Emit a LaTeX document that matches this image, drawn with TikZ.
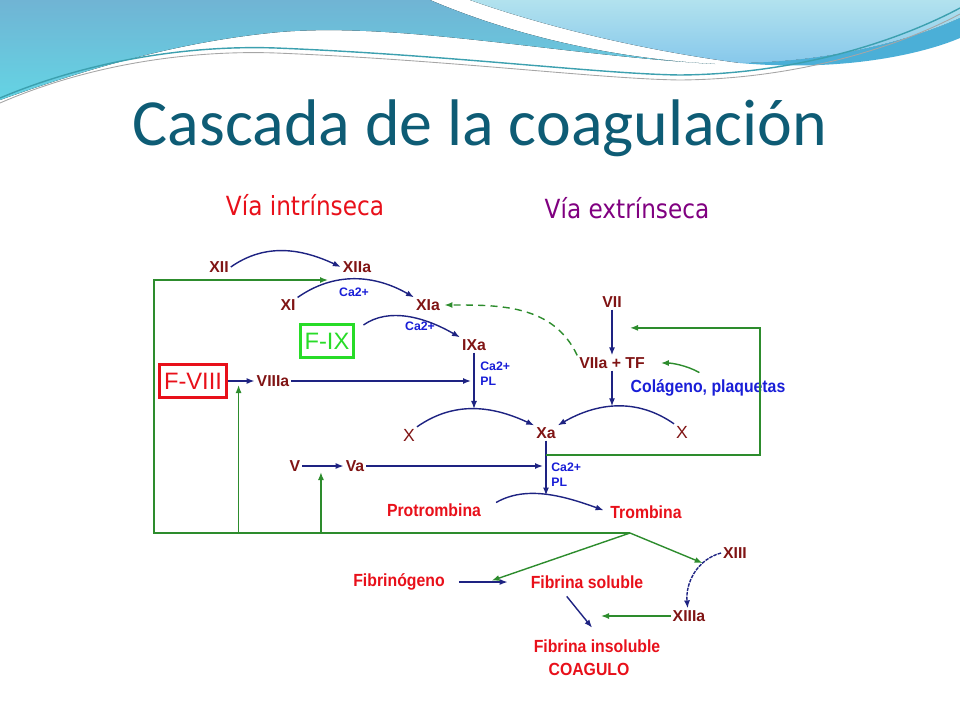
\documentclass[tikz,border=0pt]{standalone}
\usepackage{fontspec}
\setmainfont{Liberation Sans}
\newfontfamily\titlefont{Carlito}
\newfontfamily\narrowfont[FakeStretch=0.9]{Liberation Sans}
\newfontfamily\viafont[FakeStretch=0.88]{DejaVu Sans}
\usetikzlibrary{arrows.meta, positioning, calc}

\definecolor{titleteal}{RGB}{14,92,117}
\definecolor{numred}{RGB}{128,20,20}
\definecolor{labred}{RGB}{232,16,26}
\definecolor{navy}{RGB}{30,35,130}
\definecolor{cablue}{RGB}{25,30,215}
\definecolor{loopgreen}{RGB}{45,140,45}
\definecolor{boxgreen}{RGB}{40,220,40}
\definecolor{viapurple}{RGB}{128,0,128}
\definecolor{waveA}{RGB}{112,180,212}
\definecolor{waveB}{RGB}{100,212,228}
\definecolor{waveC}{RGB}{178,226,238}
\definecolor{waveD}{RGB}{135,200,235}
\definecolor{waveE}{RGB}{75,175,215}
\definecolor{waveline}{RGB}{60,160,175}

\begin{document}
\begin{tikzpicture}[
  x=0.02cm, y=-0.02cm,
  >={Latex[length=1.6mm,width=1.2mm]},
  num/.style  = {text=numred, font=\bfseries\fontsize{9}{10}\selectfont, inner sep=1pt},
  ca/.style   = {text=cablue, font=\bfseries\fontsize{7}{8}\selectfont, inner sep=0pt},
  sub/.style  = {text=labred, font=\narrowfont\bfseries\fontsize{10}{12}\selectfont, inner sep=1pt},
  fbox/.style = {draw, line width=1.7pt, font=\fontsize{13.5}{16}\selectfont, inner sep=2.5pt, minimum height=0.66cm},
  conv/.style = {->, navy, line width=0.8pt},
  fb/.style   = {->, loopgreen, line width=0.8pt},
]
  \useasboundingbox (0,0) rectangle (960,720);

  % header waves
  \fill[top color=waveA, bottom color=waveB] (0,0) -- (430,0)
    .. controls (500,30) and (600,58) .. (715,64)
    .. controls (560,55) and (400,22) .. (280,32)
    .. controls (170,42) and (70,75) .. (0,100) -- cycle;
  \fill[top color=waveC, bottom color=waveD] (470,0) -- (960,0) -- (960,18)
    .. controls (900,45) and (820,62) .. (740,63)
    .. controls (640,50) and (540,25) .. (470,0) -- cycle;
  \fill[waveE] (960,18) .. controls (900,45) and (820,62) .. (740,63)
    .. controls (840,72) and (920,55) .. (960,38) -- cycle;
  \draw[waveline, line width=0.8pt] (0,98) .. controls (90,60) and (190,45) .. (276,48)
    .. controls (450,55) and (600,74) .. (680,75) .. controls (800,74) and (900,40) .. (960,8);
  \draw[gray!70, line width=0.5pt] (0,103) .. controls (90,64) and (190,50) .. (276,53)
    .. controls (450,60) and (600,79) .. (680,80) .. controls (800,79) and (900,46) .. (960,14);

  % titles
  \node[anchor=base, text=titleteal, font=\titlefont\fontsize{37.5}{42}\selectfont, inner sep=0pt]
    (title) at (480,145) {Cascada de la coagulación};
  \node[text=labred, font=\viafont\fontsize{15}{18}\selectfont] (viaI) at (305,205) {Vía intrínseca};
  \node[text=viapurple, font=\viafont\fontsize{15}{18}\selectfont] (viaE) at (627,208) {Vía extrínseca};

  % factors
  \node[num] (XII)    at (219,267) {XII};
  \node[num] (XIIa)   at (357,267) {XIIa};
  \node[num] (XI)     at (288,305) {XI};
  \node[num] (XIa)    at (428,305) {XIa};
  \node[fbox, draw=boxgreen, text=boxgreen] (FIX)   at (327,341) {F-IX};
  \node[num] (IXa)    at (474,345) {IXa};
  \node[fbox, draw=labred, text=labred]     (FVIII) at (193,381) {F-VIII};
  \node[num] (VIIIa)  at (273,381) {VIIIa};
  \node[num] (VII)    at (612,302) {VII};
  \node[num] (VIIaTF) at (612,363) {VIIa + TF};
  \node[sub, text=cablue] (colag) at (708,388) {Colágeno, plaquetas};
  \node[num, font=\fontsize{10}{11}\selectfont] (Xl) at (409,435) {X};
  \node[num] (Xa)     at (546,433) {Xa};
  \node[num, font=\fontsize{10}{11}\selectfont] (Xr) at (682,432) {X};
  \node[num] (V)      at (295,466) {V};
  \node[num] (Va)     at (355,466) {Va};
  \node[sub] (protr)  at (434,510) {Protrombina};
  \node[sub] (tromb)  at (646,512) {Trombina};
  \node[sub] (fgeno)  at (399,582) {Fibrinógeno};
  \node[sub] (fsol)   at (587,582) {Fibrina soluble};
  \node[num] (XIII)   at (735,553) {XIII};
  \node[num] (XIIIa)  at (689,616) {XIIIa};
  \node[sub] (fins)   at (597,646) {Fibrina insoluble};
  \node[sub] (coag)   at (589,669) {COAGULO};

  % cofactors
  \node[ca] (caXI) at (354,292) {Ca2+};
  \node[ca] (caIX) at (420,326) {Ca2+};
  \node[ca, anchor=west] (caX) at (480,366) {Ca2+};
  \node[ca, below=0.12cm of caX.south west, anchor=north west] (plX) {PL};
  \node[ca, anchor=west] (caT) at (551,467) {Ca2+};
  \node[ca, below=0.12cm of caT.south west, anchor=north west] (plT) {PL};

  % cascade
  \draw[conv] (XII.east) to[out=35,in=155] (XIIa.west);
  \draw[conv] (XI.north east) to[out=35,in=150] (XIa.north west);
  \draw[conv, shorten <=0.2cm] (FIX.20) to[out=35,in=150] (IXa.north west);
  \draw[conv] (FVIII) -- node[coordinate, pos=0.4] (m8) {} (VIIIa);
  \draw[conv] (Xl.north east) to[out=35,in=155] node[coordinate, pos=0.45] (pkL) {} (Xa.north west);
  \draw[conv] (Xr.north west) to[out=145,in=30] node[coordinate, pos=0.5] (pkR) {} (Xa.north east);
  \draw[conv] (IXa.south) -- (IXa.south |- pkL);
  \draw[conv, shorten >=0.06cm] (VIIIa) -- (VIIIa -| IXa.south);
  \draw[conv] (VII) -- node[coordinate, pos=0.4] (mVII) {} (VIIaTF);
  \draw[conv] (VIIaTF.south) -- (VIIaTF.south |- pkR);
  \draw[conv] (V) -- node[coordinate, pos=0.45] (m5) {} (Va);
  \draw[conv, shorten >=0.06cm] (Va) -- (Va -| Xa.south);
  \draw[conv, shorten <=0.3cm, shorten >=0.1cm] (protr.east) to[out=30,in=160]
    node[coordinate, pos=0.5] (pkT) {} (tromb.west);
  \draw[conv] (Xa.south) -- (Xa.south |- pkT);
  \draw[conv, shorten <=0.24cm, shorten >=0.42cm] (fgeno) -- node[coordinate, pos=0.5] (mfib) {} (fsol);
  \draw[conv, dash pattern=on 2pt off 0.6pt] (XIII.west) to[out=195,in=95]
    node[coordinate, pos=0.3] (m13) {} (XIIIa.100);
  \draw[conv, shorten <=0.15cm, shorten >=0.25cm] ([xshift=-0.5cm]fsol.south)
    -- node[coordinate, pos=0.5] (mdiag) {} ([xshift=0.06cm]fins.north);

  % feedback
  \coordinate (hub)  at (630,533);
  \coordinate (gbl)  at (154,533);
  \coordinate (gtl)  at (154,280);
  \coordinate (gend) at (328,280);
  \coordinate (rloop) at (760,455);
  \draw[fb] (hub) -- (gbl) -- (gtl) -- (gend);
  \draw[fb, shorten >=0.08cm] (m8 |- hub) -- (m8);
  \draw[fb, shorten >=0.12cm] (m5 |- hub) -- (m5);
  \draw[fb, shorten >=0.36cm] (Xa.south |- rloop) -- (rloop) |- (mVII);
  \draw[fb, shorten <=0.2cm, shorten >=0.28cm] (colag.north) to[out=150,in=0] (VIIaTF.east);
  \draw[fb, dash pattern=on 4pt off 3pt, shorten >=0.05cm] (VIIaTF.north west) to[out=115,in=0] (XIa.east);
  \draw[fb, shorten >=0.08cm] (hub) -- (mfib);
  \draw[fb] (hub) -- (m13);
  \draw[fb, shorten >=0.4cm] (XIIIa.west) -- (XIIIa.west -| mdiag);
\end{tikzpicture}
\end{document}
